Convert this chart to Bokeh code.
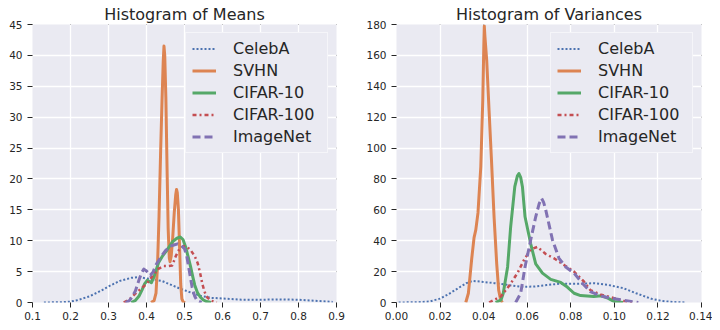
from bokeh.plotting import figure
from bokeh.layouts import row
from bokeh.models import Range1d, FixedTicker, Legend, LegendItem, Arrow, Title
from bokeh.embed import file_html
from bokeh.resources import INLINE

# ---------------- data ----------------
names = ["CelebA", "SVHN", "CIFAR-10", "CIFAR-100", "ImageNet"]

# Histogram of Means (KDE curves)
mean_celeba_x = [0.13, 0.18, 0.20, 0.22, 0.25, 0.28, 0.30, 0.33, 0.36, 0.38, 0.40, 0.44, 0.49, 0.54, 0.57, 0.60, 0.65, 0.70, 0.75, 0.80, 0.85, 0.89]
mean_celeba_y = [0.0, 0.05, 0.15, 0.4, 1.0, 1.9, 2.6, 3.5, 4.0, 4.1, 3.9, 3.5, 2.2, 1.1, 0.75, 0.65, 0.45, 0.45, 0.5, 0.45, 0.25, 0.1]

mean_svhn_x = [0.412, 0.420, 0.425, 0.429, 0.433, 0.437, 0.441, 0.444, 0.446, 0.448, 0.451, 0.454, 0.457, 0.460, 0.462, 0.465, 0.469, 0.473, 0.477, 0.479, 0.481, 0.484, 0.487, 0.490, 0.493, 0.497, 0.502]
mean_svhn_y = [0.0, 0.3, 1.5, 6, 14, 24, 33, 39, 41.5, 40, 33, 22, 12, 7.2, 6.6, 7.5, 10.5, 14.5, 17.5, 18.3, 17.8, 15, 9, 3, 0.6, 0.05, 0.0]

mean_c10_x = [0.360, 0.370, 0.380, 0.388, 0.395, 0.402, 0.408, 0.413, 0.420, 0.432, 0.443, 0.454, 0.468, 0.480, 0.489, 0.496, 0.503, 0.510, 0.516, 0.522, 0.527, 0.534, 0.542, 0.550, 0.558, 0.570]
mean_c10_y = [0.0, 0.3, 1.0, 2.0, 3.0, 3.6, 3.4, 3.2, 4.2, 6.5, 7.6, 8.5, 9.8, 10.4, 10.6, 10.2, 9.0, 7.3, 5.8, 4.1, 2.8, 1.6, 0.85, 0.4, 0.15, 0.0]

mean_c100_x = [0.340, 0.355, 0.370, 0.385, 0.400, 0.415, 0.430, 0.445, 0.458, 0.468, 0.477, 0.487, 0.497, 0.507, 0.517, 0.527, 0.535, 0.541, 0.547, 0.553, 0.560, 0.570, 0.585]
mean_c100_y = [0.0, 0.5, 1.4, 2.2, 3.0, 4.2, 5.4, 5.9, 5.9, 6.0, 7.5, 8.7, 9.1, 9.0, 8.4, 7.5, 6.3, 4.8, 3.0, 1.7, 0.8, 0.3, 0.0]

mean_imnet_x = [0.345, 0.355, 0.362, 0.371, 0.380, 0.387, 0.393, 0.400, 0.410, 0.417, 0.424, 0.437, 0.450, 0.462, 0.472, 0.482, 0.492, 0.500, 0.506, 0.511, 0.516, 0.520, 0.527, 0.533, 0.545]
mean_imnet_y = [0.0, 0.3, 0.9, 1.9, 3.6, 4.8, 5.4, 5.1, 4.4, 4.9, 6.0, 7.3, 8.4, 9.1, 9.3, 9.5, 9.2, 8.7, 7.5, 5.7, 3.9, 2.5, 1.0, 0.3, 0.0]

# Histogram of Variances
var_celeba_x = [0.001, 0.010, 0.015, 0.020, 0.024, 0.028, 0.032, 0.035, 0.040, 0.045, 0.051, 0.057, 0.063, 0.069, 0.075, 0.083, 0.091, 0.097, 0.104, 0.110, 0.117, 0.122, 0.127, 0.133]
var_celeba_y = [0.0, 0.2, 0.6, 2.5, 5.5, 9, 12.5, 14, 13.3, 12.5, 11.4, 10.2, 10.3, 11.3, 12.2, 12.1, 12.5, 11.4, 9.3, 6.0, 2.4, 1.0, 0.3, 0.0]

var_svhn_x = [0.0318, 0.0330, 0.0345, 0.0356, 0.0364, 0.0374, 0.0387, 0.0396, 0.0401, 0.0403, 0.0406, 0.0414, 0.0425, 0.0436, 0.0448, 0.0460, 0.0469, 0.0478, 0.0486]
var_svhn_y = [0.0, 6, 28, 42, 47, 58, 88, 131, 168, 179, 172, 157, 124, 92, 55, 25, 8, 1.7, 0.0]

var_c10_x = [0.0455, 0.0480, 0.0490, 0.0510, 0.0524, 0.0543, 0.0555, 0.0562, 0.0570, 0.0578, 0.0590, 0.0616, 0.0639, 0.0670, 0.0708, 0.0754, 0.0784, 0.0815, 0.0845, 0.0906, 0.0940, 0.0970, 0.1000, 0.1040]
var_c10_y = [0.0, 1.7, 6, 23, 49, 75, 82, 83.5, 81, 75, 55.5, 38, 25, 19, 15, 13, 10, 6, 4.5, 3.9, 4.3, 2.8, 0.6, 0.0]

var_c100_x = [0.0425, 0.0480, 0.0517, 0.0555, 0.0585, 0.0616, 0.0647, 0.0685, 0.0723, 0.0769, 0.0815, 0.0860, 0.0890, 0.0940, 0.1000, 0.1040, 0.1090]
var_c100_y = [0.0, 4, 10.8, 19, 27.5, 34.4, 36, 31.4, 28.6, 24.3, 20, 13.6, 8, 5, 2.8, 1, 0.0]

var_imnet_x = [0.0547, 0.0570, 0.0590, 0.0616, 0.0639, 0.0655, 0.0666, 0.0675, 0.0685, 0.0716, 0.0746, 0.0777, 0.0815, 0.0853, 0.0890, 0.0937, 0.0983, 0.1030, 0.1090, 0.1110]
var_imnet_y = [0.0, 6, 23, 40.5, 55.5, 64, 67.4, 65, 60, 40.5, 28.6, 23, 19, 12.5, 7, 4.3, 2.8, 1.7, 0.4, 0.0]

# ticks
mean_x_ticks = [0.1, 0.2, 0.3, 0.4, 0.5, 0.6, 0.7, 0.8, 0.9]
mean_x_labels = ["0.1", "0.2", "0.3", "0.4", "0.5", "0.6", "0.7", "0.8", "0.9"]
mean_y_ticks = [0, 5, 10, 15, 20, 25, 30, 35, 40, 45]
mean_y_labels = ["0", "5", "10", "15", "20", "25", "30", "35", "40", "45"]
var_x_ticks = [0.0, 0.02, 0.04, 0.06, 0.08, 0.10, 0.12, 0.14]
var_x_labels = ["0.00", "0.02", "0.04", "0.06", "0.08", "0.10", "0.12", "0.14"]
var_y_ticks = [0, 20, 40, 60, 80, 100, 120, 140, 160, 180]
var_y_labels = ["0", "20", "40", "60", "80", "100", "120", "140", "160", "180"]

# ---------------- style ----------------
BG = "#EAEAF2"
TXT = "#262626"
FONT = "DejaVu Sans"
colors = ["#4C72B0", "#DD8452", "#55A868", "#C44E52", "#8172B3"]
dashes = ["2 2", "solid", "solid", "4 3 2 3", "8 4"]
widths = [2, 3, 3, 2.5, 3]
FH = 278
TICK = 5


def style_axis(ax, ticks, labels, standoff):
    ax.ticker = FixedTicker(ticks=ticks)
    ax.axis_line_color = None
    ax.minor_tick_line_color = None
    ax.major_tick_in = 0
    ax.major_tick_out = TICK
    ax.major_tick_line_color = TXT
    ax.major_tick_line_width = 1
    ax.major_label_overrides = {t: l for t, l in zip(ticks, labels)}
    ax.major_label_text_font = FONT
    ax.major_label_text_font_size = "10.5px"
    ax.major_label_text_color = TXT
    ax.major_label_standoff = standoff


def panel(title, xs, ys, xr, yr, xt, xl, yt, yl, fw, bl, br):
    t = Title(text=title, align="center", text_font=FONT, text_font_size="16px",
              text_font_style="normal", text_color=TXT, standoff=2, offset=0)
    p = figure(frame_width=fw, frame_height=FH, title=t,
               x_range=Range1d(*xr), y_range=Range1d(*yr),
               output_backend="svg", toolbar_location=None,
               min_border_left=bl, min_border_right=br,
               min_border_top=24, min_border_bottom=22,
               background_fill_color=BG, border_fill_color="white",
               outline_line_color=None)
    p.grid.grid_line_color = "white"
    p.grid.grid_line_width = 1.3
    p.xgrid.ticker = FixedTicker(ticks=xt)
    p.ygrid.ticker = FixedTicker(ticks=yt)
    style_axis(p.xaxis[0], xt, xl, 4)
    style_axis(p.yaxis[0], yt, yl, 5)

    # mirrored tick marks on top and right edges (no labels)
    dy = (yr[1] - yr[0]) * TICK / FH
    dx = (xr[1] - xr[0]) * TICK / fw
    for tk in xt:
        p.add_layout(Arrow(end=None, x_start=tk, y_start=yr[1], x_end=tk, y_end=yr[1] + dy,
                           line_color=TXT, line_width=1))
    for tk in yt:
        p.add_layout(Arrow(end=None, x_start=xr[1], y_start=tk, x_end=xr[1] + dx, y_end=tk,
                           line_color=TXT, line_width=1))

    items = []
    for x, y, n, c, d, w in zip(xs, ys, names, colors, dashes, widths):
        r = p.line(x, y, line_color=c, line_width=w, line_dash=d, line_join="round")
        items.append(LegendItem(label=n, renderers=[r]))
    leg = Legend(items=items, location="top_right", margin=8, padding=6,
                 spacing=3, glyph_width=24, glyph_height=17, label_height=17,
                 label_width=88, label_standoff=17,
                 label_text_font=FONT, label_text_font_size="16px",
                 label_text_color=TXT, background_fill_color=BG,
                 background_fill_alpha=1.0, border_line_color="white",
                 border_line_width=1.2)
    p.add_layout(leg)
    return p


p1 = panel("Histogram of Means",
           [mean_celeba_x, mean_svhn_x, mean_c10_x, mean_c100_x, mean_imnet_x],
           [mean_celeba_y, mean_svhn_y, mean_c10_y, mean_c100_y, mean_imnet_y],
           (0.1, 0.9), (0, 45), mean_x_ticks, mean_x_labels, mean_y_ticks, mean_y_labels,
           304, 32, 20)
p2 = panel("Histogram of Variances",
           [var_celeba_x, var_svhn_x, var_c10_x, var_c100_x, var_imnet_x],
           [var_celeba_y, var_svhn_y, var_c10_y, var_c100_y, var_imnet_y],
           (0.0, 0.14), (0, 180), var_x_ticks, var_x_labels, var_y_ticks, var_y_labels,
           305, 40, 11)

layout = row(p1, p2, spacing=0)
open("out.html", "w").write(file_html(layout, INLINE))
